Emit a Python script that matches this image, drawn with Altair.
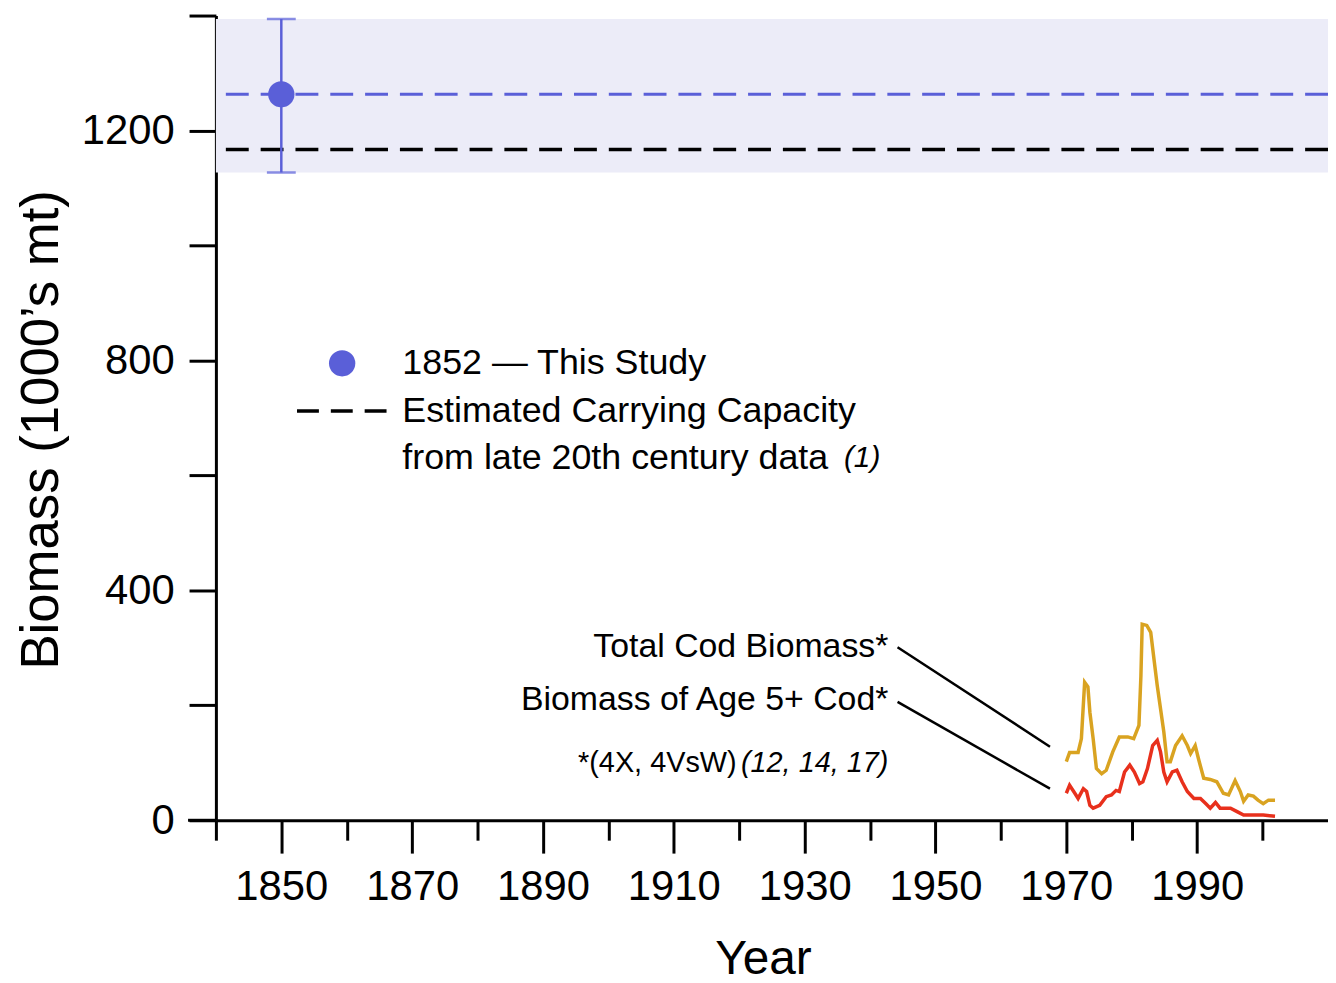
import altair as alt
import pandas as pd

# ---- data ----
total_years = [1970, 1970.5, 1971.8, 1972.3, 1972.8, 1973.3, 1973.6, 1974.1, 1974.6, 1975.4,
               1976.1, 1977.1, 1978.1, 1979.4, 1980.3, 1981.1, 1981.4, 1981.6, 1982.3, 1982.9,
               1983.4, 1983.9, 1984.4, 1984.9, 1985.4, 1985.9, 1986.7, 1987.7, 1988.5, 1989.0,
               1989.7, 1990.2, 1991.0, 1992.0, 1993.0, 1994.0, 1994.8, 1995.8, 1996.6, 1997.1,
               1997.8, 1998.6, 1999.3, 2000.1, 2000.9, 2001.9]
total_vals = [102, 118, 118, 142, 240, 232, 188, 142, 90, 81,
              87, 119, 145, 145, 142, 165, 251, 341, 339, 327,
              280, 234, 194, 154, 102, 102, 130, 147, 130, 116,
              130, 107, 73, 71, 67, 47, 44, 69, 50, 33,
              44, 42, 35, 29, 35, 35]

age5_years = [1970, 1970.5, 1971.3, 1971.8, 1972.6, 1973.1, 1973.6, 1974.1, 1975.1, 1976.1,
              1976.9, 1977.6, 1978.1, 1978.9, 1979.7, 1980.4, 1981.2, 1981.7, 1982.4, 1983.2,
              1983.9, 1984.4, 1984.9, 1985.4, 1986.2, 1986.9, 1987.7, 1988.5, 1989.5, 1990.5,
              1991.3, 1992.0, 1992.8, 1993.5, 1995.1, 1996.1, 1997.1, 1999.1, 2000.1, 2001.9]
age5_vals = [47, 61, 47, 38, 55, 50, 26, 21, 26, 41,
             44, 52, 50, 84, 96, 84, 64, 67, 90, 130,
             139, 119, 84, 67, 84, 87, 67, 50, 38, 38,
             29, 21, 31, 21, 21, 15, 9, 9, 9, 7]

study_year = [1850]
study_value = [1263]
study_low = [1127]
study_high = [1394]
carrying_capacity = [1167]

series_names = ["Total Cod Biomass", "Biomass of Age 5+ Cod"]
series_colors = ["#d9a321", "#e8301c"]

BLUE = "#5a5fd8"
BAND = "#ececf8"
FONT = "Liberation Sans, Arial, Helvetica, sans-serif"

X_DOMAIN = [1840, 2010]
Y_DOMAIN = [0, 1400]

# ---- tables ----
cod = pd.concat([
    pd.DataFrame({"year": total_years, "value": total_vals, "series": series_names[0]}),
    pd.DataFrame({"year": age5_years, "value": age5_vals, "series": series_names[1]}),
])
study = pd.DataFrame({"year": study_year, "value": study_value, "low": study_low, "high": study_high})
band = pd.DataFrame({"x": [X_DOMAIN[0]], "x2": [X_DOMAIN[1]], "low": study_low, "high": study_high})
cc = pd.DataFrame({"value": carrying_capacity})

xs = alt.Scale(domain=X_DOMAIN, nice=False, zero=False)
ys = alt.Scale(domain=Y_DOMAIN, nice=False)

x_axis = alt.Axis(
    values=list(range(1840, 2001, 10)), format="d",
    labelExpr="datum.value % 20 == 10 ? datum.label : ''",
    tickSize={"condition": {"test": "datum.value % 20 == 10", "value": 33}, "value": 20},
    labelPadding=14, labelFont=FONT, labelFontSize=42, labelColor="black",
    domainColor="black", domainWidth=3, tickColor="black", tickWidth=3, grid=False,
    title="Year", titleFont=FONT, titleFontSize=48, titleFontWeight="normal", titleColor="black",
    titleX=550, titleY=140, titleBaseline="middle", titleAlign="center",
)
y_axis = alt.Axis(
    values=list(range(0, 1401, 200)), format="d",
    labelExpr="datum.value % 400 == 0 ? datum.label : ''",
    tickSize=27, labelPadding=15, labelFont=FONT, labelFontSize=42, labelColor="black",
    domainColor="black", domainWidth=3, tickColor="black", tickWidth=3, grid=False,
    title="Biomass (1000\u2019s mt)", titleFont=FONT, titleFontSize=53, titleFontWeight="normal",
    titleColor="black", titleX=-175, titleY=416, titleAngle=270,
    titleBaseline="middle", titleAlign="center",
)

band_layer = alt.Chart(band).mark_rect(color=BAND).encode(
    x=alt.X("x:Q", scale=xs, axis=x_axis), x2="x2:Q",
    y=alt.Y("low:Q", scale=ys, axis=y_axis), y2="high:Q",
)
blue_line = alt.Chart(study).mark_rule(color=BLUE, strokeWidth=3, strokeDash=[23, 12]).encode(
    y=alt.Y("value:Q", scale=ys)
)
cc_line = alt.Chart(cc).mark_rule(color="black", strokeWidth=3.5, strokeDash=[23, 12]).encode(
    y=alt.Y("value:Q", scale=ys)
)
err = alt.Chart(study).mark_rule(color=BLUE, strokeWidth=2.5).encode(
    x=alt.X("year:Q", scale=xs), y=alt.Y("low:Q", scale=ys), y2="high:Q"
)
cap_lo = alt.Chart(study).mark_tick(color=BLUE, orient="horizontal", size=29, thickness=2.5).encode(
    x=alt.X("year:Q", scale=xs), y=alt.Y("low:Q", scale=ys)
)
cap_hi = alt.Chart(study).mark_tick(color=BLUE, orient="horizontal", size=29, thickness=2.5).encode(
    x=alt.X("year:Q", scale=xs), y=alt.Y("high:Q", scale=ys)
)
dot = alt.Chart(study).mark_circle(color=BLUE, size=700, opacity=1).encode(
    x=alt.X("year:Q", scale=xs), y=alt.Y("value:Q", scale=ys)
)
lines = alt.Chart(cod).mark_line(strokeWidth=3.5).encode(
    x=alt.X("year:Q", scale=xs), y=alt.Y("value:Q", scale=ys),
    color=alt.Color("series:N", scale=alt.Scale(domain=series_names, range=series_colors), legend=None),
)

# x-axis line continues a little to the left of the y axis, as in the reference
axis_stub = alt.Chart(cc).mark_rule(color="black", strokeWidth=3).encode(
    x=alt.value(-28), x2=alt.value(0), y=alt.value(809)
)

# ---- in-plot legend ----
leg_dot = alt.Chart(pd.DataFrame({"x": [1859.3], "y": [795]})).mark_circle(
    color=BLUE, size=700, opacity=1).encode(x=alt.X("x:Q", scale=xs), y=alt.Y("y:Q", scale=ys))
leg_dash = alt.Chart(pd.DataFrame({"x": [1852.4], "x2": [1866.1], "y": [712]})).mark_rule(
    color="black", strokeWidth=3.5, strokeDash=[22, 12]).encode(
    x=alt.X("x:Q", scale=xs), x2="x2:Q", y=alt.Y("y:Q", scale=ys))
leg_text = alt.Chart(pd.DataFrame({
    "x": [1868.5, 1868.5, 1868.5],
    "y": [795, 712, 631],
    "t": ["1852 \u2014 This Study", "Estimated Carrying Capacity", "from late 20th century data"],
})).mark_text(align="left", baseline="middle", font=FONT, fontSize=36, color="black").encode(
    x=alt.X("x:Q", scale=xs), y=alt.Y("y:Q", scale=ys), text="t:N")
leg_ref = alt.Chart(pd.DataFrame({"x": [1936.0], "y": [631], "t": ["(1)"]})).mark_text(
    align="left", baseline="middle", font=FONT, fontSize=30, fontStyle="italic", color="black").encode(
    x=alt.X("x:Q", scale=xs), y=alt.Y("y:Q", scale=ys), text="t:N")

# ---- annotations ----
ann_text = alt.Chart(pd.DataFrame({
    "x": [1942.8, 1942.8], "y": [302, 209],
    "t": ["Total Cod Biomass*", "Biomass of Age 5+ Cod*"],
})).mark_text(align="right", baseline="middle", font=FONT, fontSize=34, color="black").encode(
    x=alt.X("x:Q", scale=xs), y=alt.Y("y:Q", scale=ys), text="t:N")
foot1 = alt.Chart(pd.DataFrame({"x": [1919.6], "y": [100], "t": ["*(4X, 4VsW)"]})).mark_text(
    align="right", baseline="middle", font=FONT, fontSize=29, color="black").encode(
    x=alt.X("x:Q", scale=xs), y=alt.Y("y:Q", scale=ys), text="t:N")
foot2 = alt.Chart(pd.DataFrame({"x": [1942.8], "y": [100], "t": ["(12, 14, 17)"]})).mark_text(
    align="right", baseline="middle", font=FONT, fontSize=29, fontStyle="italic", color="black").encode(
    x=alt.X("x:Q", scale=xs), y=alt.Y("y:Q", scale=ys), text="t:N")
leaders = alt.Chart(pd.DataFrame({
    "x": [1944.2, 1944.2], "x2": [1967.5, 1967.5], "y": [301, 206], "y2": [128, 55],
})).mark_rule(color="black", strokeWidth=2.5).encode(
    x=alt.X("x:Q", scale=xs), x2="x2:Q", y=alt.Y("y:Q", scale=ys), y2="y2:Q")

chart = alt.layer(
    band_layer, blue_line, cc_line, err, cap_lo, cap_hi, dot, lines, axis_stub,
    leg_dot, leg_dash, leg_text, leg_ref, ann_text, foot1, foot2, leaders,
).properties(
    width=1118, height=809, autosize="none",
    padding={"left": 209, "top": 5, "right": 0, "bottom": 160},
    background="white",
).configure_view(stroke=None)

chart.save("out.html", embed_options={"renderer": "svg", "actions": False})
